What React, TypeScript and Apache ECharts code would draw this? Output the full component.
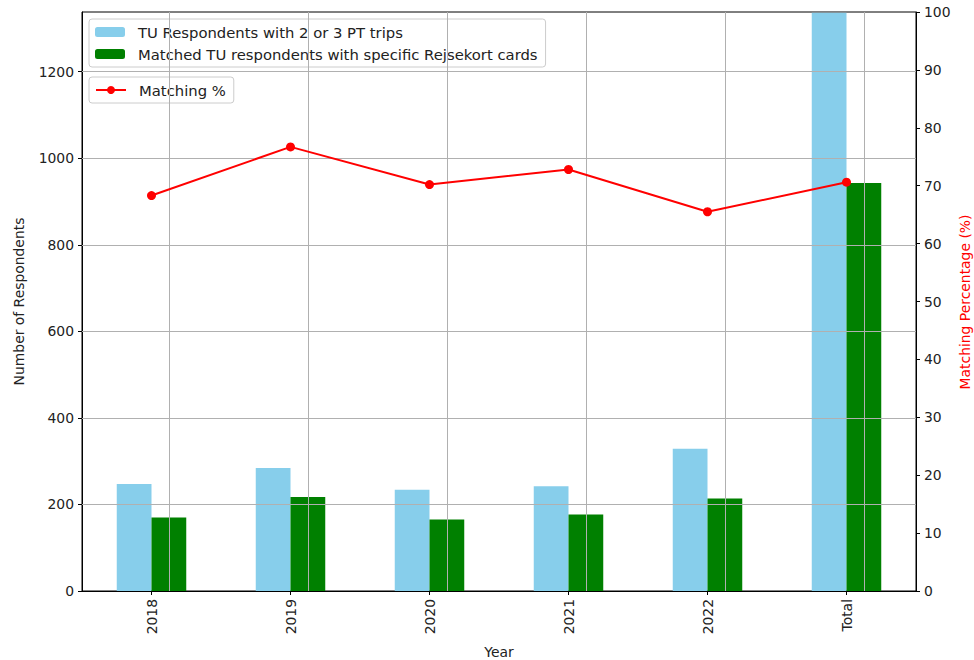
import React, { useEffect, useRef } from "react";
import * as echarts from "echarts";

const categories = ["2018", "2019", "2020", "2021", "2022", "Total"];
const respondents = [247, 284, 234, 242, 329, 1336];
const matched = [170, 217, 165, 177, 214, 943];
const matchingPct = [68.3, 76.7, 70.2, 72.8, 65.5, 70.6];
const leftTicks = [0, 200, 400, 600, 800, 1000, 1200];
const leftMax = 1338;
const rightAxisName = "Matching Percentage (%)";

const FONT = "DejaVu Sans";
const TXT = "#222";
const FS = 13.9;
const LFS = 14.8;

export default function App() {
  const ref = useRef<HTMLDivElement>(null);
  useEffect(() => {
    if (!ref.current) return;
    const chart = echarts.init(ref.current, undefined, { renderer: "svg" });
    const gridLines = [
      ...leftTicks.filter((v) => v > 0).map((v) => ({ yAxis: v })),
      ...categories.map((c) => ({ xAxis: c })),
    ];
    const legendCommon = {
      orient: "vertical",
      left: 89,
      itemWidth: 30,
      itemHeight: 10,
      itemGap: 6,
      padding: [5, 8, 5, 6],
      backgroundColor: "rgba(255,255,255,0.8)",
      borderColor: "#ccc",
      borderWidth: 1,
      borderRadius: 3,
      selectedMode: false,
      textStyle: {
        fontFamily: FONT,
        fontSize: LFS,
        color: TXT,
        lineHeight: 16,
        padding: [0, 0, 0, 8],
      },
    };
    chart.setOption({
      animation: false,
      backgroundColor: "#fff",
      textStyle: { fontFamily: FONT },
      grid: {
        left: 82,
        right: 58,
        top: 12,
        bottom: 69,
        outerBoundsMode: "none",
        containLabel: false,
        show: true,
        borderColor: "#000",
        borderWidth: 1,
        backgroundColor: "transparent",
      },
      graphic: [
        {
          type: "text",
          x: 965,
          y: 302,
          rotation: Math.PI / 2,
          silent: true,
          style: {
            text: rightAxisName,
            fill: "#ff0000",
            fontFamily: FONT,
            fontSize: FS,
            align: "center",
            verticalAlign: "middle",
          },
        },
      ],
      legend: [
        {
          ...legendCommon,
          top: 19,
          data: [
            "TU Respondents with 2 or 3 PT trips",
            "Matched TU respondents with specific Rejsekort cards",
          ],
        },
        {
          ...legendCommon,
          top: 77,
          data: ["Matching %"],
        },
      ],
      xAxis: {
        type: "category",
        data: categories,
        boundaryGap: true,
        name: "Year",
        nameLocation: "middle",
        nameGap: 54,
        nameTextStyle: { fontFamily: FONT, fontSize: FS, color: TXT },
        axisLine: { show: true, lineStyle: { color: "#000", width: 1 } },
        axisTick: { show: true, alignWithLabel: true, length: 4, lineStyle: { color: "#000" } },
        axisLabel: { rotate: 90, margin: 8, fontFamily: FONT, fontSize: FS, color: TXT },
        splitLine: { show: false },
      },
      yAxis: [
        {
          type: "value",
          min: 0,
          max: leftMax,
          interval: 200,
          name: "Number of Respondents",
          nameLocation: "middle",
          nameGap: 56,
          nameTextStyle: { fontFamily: FONT, fontSize: FS, color: TXT },
          axisLine: { show: true, lineStyle: { color: "#000", width: 1 } },
          axisTick: { show: true, length: 4, lineStyle: { color: "#000" }, customValues: leftTicks },
          axisLabel: {
            fontFamily: FONT,
            fontSize: FS,
            color: TXT,
            margin: 8,
            customValues: leftTicks,
            formatter: (v: number) => String(v),
          },
          splitLine: { show: false },
        },
        {
          type: "value",
          min: 0,
          max: 100,
          interval: 10,
          position: "right",
          axisLine: { show: true, lineStyle: { color: "#000", width: 1 } },
          axisTick: { show: true, length: 4, lineStyle: { color: "#000" } },
          axisLabel: { fontFamily: FONT, fontSize: FS, color: TXT, margin: 8, formatter: (v: number) => String(v) },
          splitLine: { show: false },
        },
      ],
      series: [
        {
          name: "TU Respondents with 2 or 3 PT trips",
          type: "bar",
          data: respondents,
          yAxisIndex: 0,
          barWidth: "25%",
          barGap: "0%",
          itemStyle: { color: "#87CEEB" },
          z: 2,
        },
        {
          name: "Matched TU respondents with specific Rejsekort cards",
          type: "bar",
          data: matched,
          yAxisIndex: 0,
          barWidth: "25%",
          barGap: "0%",
          itemStyle: { color: "#008000" },
          z: 2,
          markLine: {
            silent: true,
            symbol: ["none", "none"],
            label: { show: false },
            lineStyle: { color: "#b0b0b0", width: 1, type: "solid" },
            emphasis: { disabled: true },
            data: gridLines,
          },
        },
        {
          name: "Matching %",
          type: "line",
          data: matchingPct,
          yAxisIndex: 1,
          symbol: "circle",
          symbolSize: 9,
          lineStyle: { color: "#ff0000", width: 2 },
          itemStyle: { color: "#ff0000" },
          z: 10,
        },
      ],
    });
    return () => chart.dispose();
  }, []);
  return <div ref={ref} style={{ width: 974, height: 660, position: "absolute", left: 0, top: 0 }} />;
}
